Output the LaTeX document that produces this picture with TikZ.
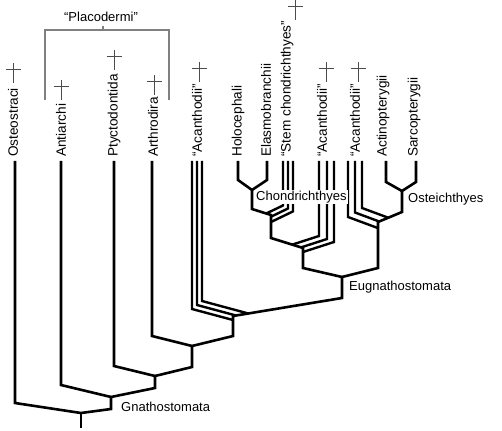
\documentclass[tikz,border=0pt]{standalone}
\usepackage{fontspec}
\setmainfont{Liberation Sans}
\usetikzlibrary{calc}

\begin{document}
\begin{tikzpicture}[x=1pt,y=-1pt,
  branch/.style={line width=2.6pt},
  grade/.style={line width=2.4pt},
  bracket/.style={line width=1.1pt,black!50},
  taxon/.style={rotate=90,anchor=west,inner sep=0pt,font=\fontsize{13.6}{15}\selectfont},
  clade/.style={anchor=west,inner sep=1pt,font=\fontsize{13}{15}\selectfont},
  extinct/.pic={\draw[line width=0.9pt,black!70] (0,0)--(0,20) (-7.5,6)--(7.5,6);}]
\useasboundingbox (0,0) rectangle (502,430);
\coordinate (top) at (0,161);
% nodes of the tree
\coordinate (base) at (81,428);
\coordinate (root) at (81,413);
\coordinate (gn-s) at (111,409);  \coordinate (gn) at (111,397);
\coordinate (n2-s) at (155,388);  \coordinate (n2) at (155,376);
\coordinate (n3-s) at (192,367);  \coordinate (n3) at (192,346);
\coordinate (n4-s) at (233,336);  \coordinate (n4) at (233,316);
\coordinate (eu-s) at (342,298);  \coordinate (eu) at (342,277);
\coordinate (c0-s) at (303,268);  \coordinate (c0) at (303,248);
\coordinate (c1-s) at (271,238);  \coordinate (c1) at (271,215);
\coordinate (c2-s) at (252,209);  \coordinate (c2) at (252,190);
\coordinate (o0-s) at (378,268);  \coordinate (o0) at (378,222);
\coordinate (o1-s) at (402,212);  \coordinate (o1) at (402,191);
% leaf bends
\coordinate (ost-b) at (15,403);
\coordinate (ant-b) at (61,385);
\coordinate (pty-b) at (114,366);
\coordinate (art-b) at (152,336);
\coordinate (hol-b) at (238,180);
\coordinate (ela-b) at (267,180);
\coordinate (act-b) at (386,182);
\coordinate (sar-b) at (416,182);

\draw[branch] (base) -- (root);
\draw[branch] (ost-b |- top) -- (ost-b) -- (root) -- (gn-s) -- (gn) -- (n2-s) -- (n2)
  -- (n3-s) -- (n3) -- (n4-s) -- (n4) -- (eu-s) -- (eu) -- (o0-s) -- (o0) -- (o1-s)
  -- (o1) -- (sar-b) -- (sar-b |- top);
\draw[branch] (ant-b |- top) -- (ant-b) -- (gn);
\draw[branch] (pty-b |- top) -- (pty-b) -- (n2);
\draw[branch] (art-b |- top) -- (art-b) -- (n3);
\draw[branch] (eu) -- (c0-s) -- (c0) -- (c1-s) -- (c1) -- (c2-s) -- (c2) -- (hol-b) -- (hol-b |- top);
\draw[branch] (c2) -- (ela-b) -- (ela-b |- top);
\draw[branch] (o1) -- (act-b) -- (act-b |- top);

% paraphyletic grades
\foreach \x/\b/\ex/\ey [count=\i] in {192/309/233/320,197/305/236/315.5,202/301/248/313.4}{
  \coordinate (aca1-b\i) at (\x,\b); \coordinate (aca1-e\i) at (\ex,\ey);
  \draw[grade] (aca1-b\i |- top) -- (aca1-b\i) -- (aca1-e\i);
}
\foreach \x/\b/\ex/\ey [count=\i] in {334/242/303/252,327/239/301/247.4,319/236/292/244.7}{
  \coordinate (aca2-b\i) at (\x,\b); \coordinate (aca2-e\i) at (\ex,\ey);
  \draw[grade] (aca2-b\i |- top) -- (aca2-b\i) -- (aca2-e\i);
}
\foreach \x/\b/\ex/\ey [count=\i] in {293/211.4/271/222,288/208.5/271/216.7,283/205.5/266.2/213.5}{
  \coordinate (stem-b\i) at (\x,\b); \coordinate (stem-e\i) at (\ex,\ey);
  \draw[grade] (stem-b\i |- top) -- (stem-b\i) -- (stem-e\i);
}
\foreach \x/\b/\ex/\ey [count=\i] in {348/217/378/228.1,355/212.5/379.2/221.5,362/208/388.2/217.7}{
  \coordinate (aca3-b\i) at (\x,\b); \coordinate (aca3-e\i) at (\ex,\ey);
  \draw[grade] (aca3-b\i |- top) -- (aca3-b\i) -- (aca3-e\i);
}

% taxa
\node[taxon] (ost) at (13,157) {Osteostraci};
\node[taxon] (ant) at (61,157) {Antiarchi};
\node[taxon] (pty) at (114,157) {Ptyctodontida};
\node[taxon] (art) at (153,157) {Arthrodira};
\node[taxon] (aca1) at (197,157) {“Acanthodii”};
\node[taxon] (hol) at (238,157) {Holocephali};
\node[taxon] (ela) at (266,157) {Elasmobranchii};
\node[taxon] (stem) at (287,157) {“Stem chondrichthyes”};
\node[taxon] (aca2) at (322,157) {“Acanthodii”};
\node[taxon] (aca3) at (355,157) {“Acanthodii”};
\node[taxon] (act) at (383,157) {Actinopterygii};
\node[taxon] (sar) at (414,157) {Sarcopterygii};

\pic at (13,63) {extinct};
\pic at (61,80) {extinct};
\pic at (114,50) {extinct};
\pic at (154,75) {extinct};
\pic at (199,62) {extinct};
\pic at (295,0) {extinct};
\pic at (326,62) {extinct};
\pic at (358,62) {extinct};

% clades
\node[clade] (gna) at (120,407) {Gnathostomata};
\node[clade] (eug) at (348,287) {Eugnathostomata};
\node[clade,fill=white] (cho) at (255,197) {Chondrichthyes};
\node[clade] (ostei) at (407,199) {Osteichthyes};
\node[font=\fontsize{13}{15}\selectfont] (plc) at (101,17) {“Placodermi”};
\coordinate (pl-l) at (45,100);
\coordinate (pl-r) at (169,100);
\coordinate (brk) at (103,30);
\draw[bracket] (pl-l) |- (brk) -| (pl-r);
\draw[bracket] (brk) -- ++(0,-4);
\end{tikzpicture}
\end{document}
